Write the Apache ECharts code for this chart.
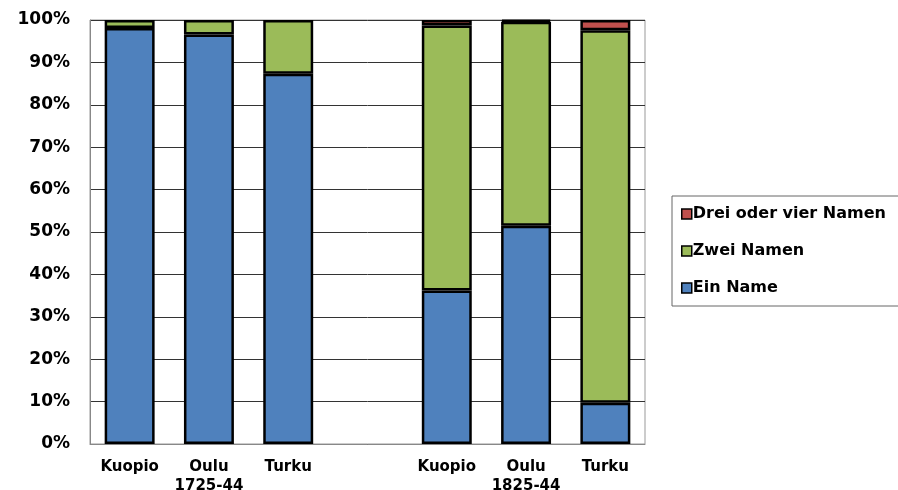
<!DOCTYPE html>
<html>
<head>
<meta charset="utf-8">
<script src="https://cdn.jsdelivr.net/npm/echarts@6/dist/echarts.min.js"></script>
<style>
  html, body { margin: 0; padding: 0; background: #fff; }
  #main { width: 898px; height: 490px; }
</style>
</head>
<body>
<div id="main"></div>
<script>
// Kategorien (leere Spalte trennt die beiden Zeiträume)
var categories = ['Kuopio', 'Oulu\n1725-44', 'Turku', '', 'Kuopio', 'Oulu\n1825-44', 'Turku'];
// Anteile in Prozent
var einName  = [98.1, 96.6, 87.3, '-', 36.2, 51.5, 9.7];
var zweiNamen = [1.9, 3.4, 12.7, '-', 62.5, 48.1, 87.9];
var dreiVier  = ['-', '-', '-', '-', 1.3, 0.4, 2.4];
var yTicks = ['0%', '10%', '20%', '30%', '40%', '50%', '60%', '70%', '80%', '90%', '100%'];

var font = 'DejaVu Sans, Verdana, sans-serif';

function barSeries(name, data, color) {
  return {
    name: name,
    type: 'bar',
    stack: 'total',
    barWidth: '63%',
    data: data,
    itemStyle: { color: color, borderColor: '#000', borderWidth: 2.5 }
  };
}

var myChart = echarts.init(document.getElementById('main'));
myChart.setOption({
  animation: false,
  backgroundColor: '#fff',
  grid: {
    left: 90, top: 20, right: 253, bottom: 46,
    containLabel: false, outerBoundsMode: 'none',
    show: true, borderColor: '#999', borderWidth: 1
  },
  legend: {
    orient: 'vertical',
    left: 672, top: 196,
    padding: [10, 60, 10, 9],
    borderColor: '#666', borderWidth: 1,
    itemWidth: 10, itemHeight: 10, itemGap: 21,
    icon: 'rect',
    itemStyle: { borderColor: '#000', borderWidth: 1.5 },
    textStyle: { fontFamily: font, fontWeight: 'bold', fontSize: 16, color: '#000', padding: [0, 0, 0, -4] },
    data: ['Drei oder vier Namen', 'Zwei Namen', 'Ein Name']
  },
  xAxis: {
    type: 'category',
    data: categories,
    axisTick: { show: false },
    axisLine: { lineStyle: { color: '#888', width: 1 } },
    axisLabel: {
      interval: 0, margin: 14,
      fontFamily: font, fontWeight: 'bold', fontSize: 15, color: '#000',
      lineHeight: 19
    }
  },
  yAxis: {
    type: 'value',
    min: 0, max: 100, interval: 10,
    axisLine: { show: true, lineStyle: { color: '#888' } },
    axisTick: { show: false },
    splitLine: { lineStyle: { color: '#333', width: 1 } },
    axisLabel: {
      margin: 20,
      fontFamily: font, fontWeight: 'bold', fontSize: 17, color: '#000',
      formatter: function (v) { return yTicks[Math.round(v / 10)]; }
    }
  },
  series: [
    barSeries('Ein Name', einName, '#4F81BD'),
    barSeries('Zwei Namen', zweiNamen, '#9BBB59'),
    barSeries('Drei oder vier Namen', dreiVier, '#C0504D')
  ]
});
</script>
</body>
</html>
